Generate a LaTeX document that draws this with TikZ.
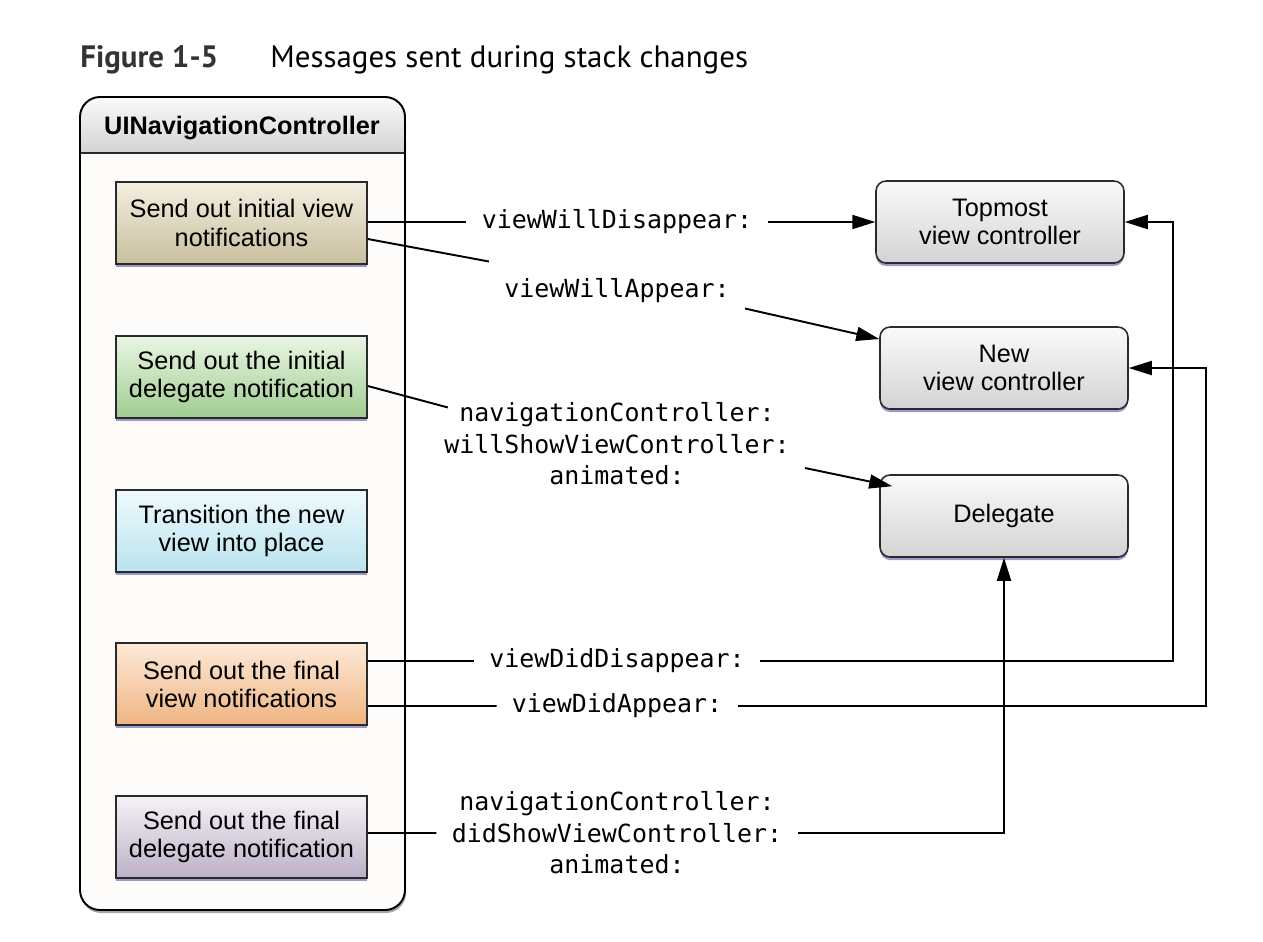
\documentclass[tikz,border=0pt]{standalone}
\usepackage{fontspec}
\setmainfont{Liberation Sans}
\newfontfamily\monofont{DejaVu Sans Mono}
\newfontfamily\capfont{PT Sans}
\usepackage{xcolor}
\usepackage{tikz}
\usetikzlibrary{arrows.meta,positioning,shadows}

\definecolor{tanTop}{HTML}{F3EFE0}
\definecolor{tanBot}{HTML}{C8BF9E}
\definecolor{greenTop}{HTML}{EAF5E4}
\definecolor{greenBot}{HTML}{9FCC90}
\definecolor{blueTop}{HTML}{EFFAFD}
\definecolor{blueBot}{HTML}{B9E3EE}
\definecolor{orangeTop}{HTML}{FDE9D8}
\definecolor{orangeBot}{HTML}{EFB583}
\definecolor{lilacTop}{HTML}{F5F2F7}
\definecolor{lilacBot}{HTML}{BCB0C6}
\definecolor{grayTop}{HTML}{FAFAFA}
\definecolor{grayBot}{HTML}{D3D3D3}
\definecolor{paneFill}{HTML}{FEFBFB}
\definecolor{shadeBlue}{HTML}{9A98C8}
\definecolor{edgeGray}{HTML}{2A2A2A}

\newcommand{\boxfont}{\fontsize{14.4}{16}\selectfont}
\newcommand{\msgfont}{\monofont\fontsize{14.2}{17.9}\selectfont}

\begin{document}
\begin{tikzpicture}[x=0.02cm,y=-0.02cm,
          stage/.style={draw=edgeGray,line width=0.9pt,minimum width=5.02cm,minimum height=1.64cm,
            align=center,font=\boxfont,inner sep=1pt,
            drop shadow={shadow xshift=0cm,shadow yshift=-0.06cm,fill=shadeBlue,opacity=1}},
          target/.style={stage,rounded corners=0.2cm,minimum width=4.96cm,top color=grayTop,bottom color=grayBot},
          msg/.style={font=\msgfont,align=center,inner xsep=0.3cm,inner ysep=0.1cm},
          wire/.style={line width=1.1pt},
          arr/.style={wire,-{Triangle[length=0.46cm,width=0.28cm]}}]
        \useasboundingbox (0,0) rectangle (1263,941);
        % caption
        \node[anchor=base west,inner sep=0pt,font=\capfont\bfseries\fontsize{17.6}{20}\selectfont,text=black!80] (fignum) at (80,67) {Figure 1-5};
        \node[anchor=base west,inner sep=0pt,font=\capfont\fontsize{17.6}{20}\selectfont] (figcap) at (270,67) {Messages sent during stack changes};
        % navigation controller pane
        \fill[paneFill,rounded corners=0.4cm,drop shadow={shadow xshift=0.02cm,shadow yshift=-0.06cm,fill=black!35,opacity=1}]
          (80,97) rectangle (405,910);
        \begin{scope}
          \clip[rounded corners=0.4cm] (80,97) rectangle (405,910);
          \shade[top color=grayTop,bottom color=grayBot] (80,97) rectangle (405,153);
        \end{scope}
        \draw[edgeGray,line width=0.9pt] (80,153) -- (405,153);
        \draw[black,line width=1.1pt,rounded corners=0.4cm] (80,97) rectangle (405,910);
        \node[font=\boxfont\bfseries] (navhead) at (242,128) {UINavigationController};
        % stages
        \node[stage,top color=tanTop,bottom color=tanBot]       (b1) at (241.5,223) {Send out initial view\\notifications};
        \node[stage,top color=greenTop,bottom color=greenBot]   (b2) at (241.5,377) {Send out the initial\\delegate notification};
        \node[stage,top color=blueTop,bottom color=blueBot]     (b3) at (241.5,531) {Transition the new\\view into place};
        \node[stage,top color=orangeTop,bottom color=orangeBot] (b4) at (241.5,684) {Send out the final\\view notifications};
        \node[stage,top color=lilacTop,bottom color=lilacBot]   (b5) at (241.5,837) {Send out the final\\delegate notification};
        % receivers
        \node[target] (top) at (1000,222) {Topmost\\view controller};
        \node[target] (new) at (1004,368) {New\\view controller};
        \node[target] (dlg) at (1004,516) {Delegate};
        % messages
        \node[msg] (wwd)  at (617,222) {viewWillDisappear:};
        \node[msg] (wwa)  at (617,291) {viewWillAppear:};
        \node[msg] (wsvc) at (617,444) {navigationController:\\willShowViewController:\\animated:};
        \node[msg] (ddd)  at (617,661) {viewDidDisappear:};
        \node[msg] (dda)  at (617,706) {viewDidAppear:};
        \node[msg] (dsvc) at (617,833) {navigationController:\\didShowViewController:\\animated:};
        % connectors
        \draw[wire] ([yshift=0.02cm]b1.east) -- (wwd.west);
        \draw[arr]  (wwd.east) -- (top.west);
        \draw[wire] ([yshift=-0.32cm]b1.east) -- ([yshift=0.24cm]wwa.north west);
        \draw[arr]  (wwa.south east) -- ([yshift=0.58cm]new.west);
        \draw[wire] ([yshift=-0.18cm]b2.east) -- ([xshift=0.38cm,yshift=-0.2cm]wsvc.north west);
        \draw[arr]  ([yshift=-0.48cm]wsvc.east) -- ([xshift=0.26cm,yshift=-0.24cm]dlg.north west);
        \draw[wire] ([yshift=0.46cm]b4.east) -- (ddd.west);
        \draw[arr]  (ddd.east) -| ([xshift=0.96cm]top.east) -- (top.east);
        \draw[wire] ([yshift=-0.44cm]b4.east) -- (dda.west);
        \draw[arr]  (dda.east) -| ([xshift=1.54cm]new.east) -- (new.east);
        \draw[wire] ([yshift=0.08cm]b5.east) -- (dsvc.west);
        \draw[arr]  (dsvc.east) -| (dlg.south);
      \end{tikzpicture}
\end{document}
